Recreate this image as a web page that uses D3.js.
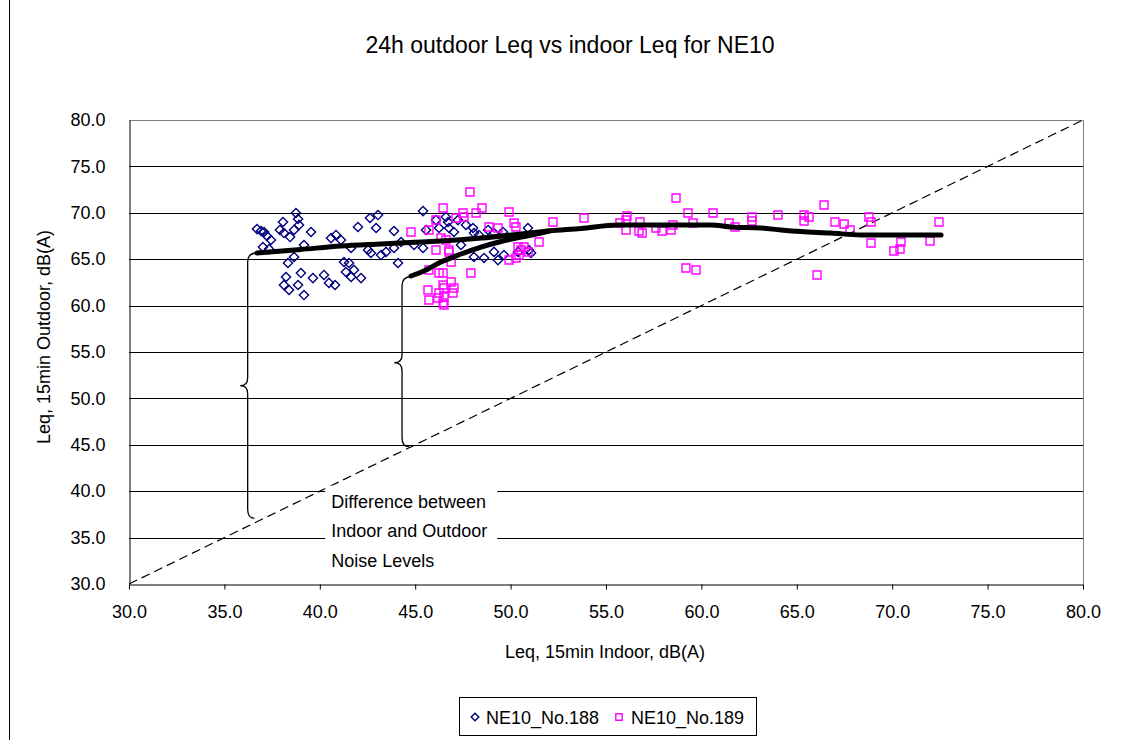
<!DOCTYPE html>
<html>
<head>
<meta charset="utf-8">
<script src="https://cdn.jsdelivr.net/npm/d3@7"></script>
<style>
  html, body { margin: 0; padding: 0; background: #fff; }
  svg { display: block; font-family: "Liberation Sans", Arial, sans-serif; }
</style>
</head>
<body>
<svg id="chart" width="1123" height="740"></svg>
<script>
// ---------------- DATA ----------------
const chartTitle = "24h outdoor Leq vs indoor Leq for NE10";
const xTitle = "Leq, 15min Indoor, dB(A)";
const yTitle = "Leq, 15min Outdoor, dB(A)";
const seriesNames = ["NE10_No.188", "NE10_No.189"];
const xTicks = [30, 35, 40, 45, 50, 55, 60, 65, 70, 75, 80];
const yTicks = [30, 35, 40, 45, 50, 55, 60, 65, 70, 75, 80];

// NE10_No.188 : [indoor, outdoor]
const ne188 = [
  [36.71,68.25],[36.92,68.04],[37.08,67.93],[37.23,67.50],[37.44,67.07],[37.02,66.31],[37.34,66.10],
  [38.07,69.01],[37.91,68.15],[38.12,67.82],[38.44,67.39],[38.75,69.98],[38.86,69.33],[38.91,68.69],
  [38.65,68.15],[39.54,67.93],[39.17,66.53],[38.65,65.24],[38.33,64.59],[39.01,63.51],[38.23,63.08],
  [38.12,62.22],[38.39,61.68],[38.86,62.22],[39.17,61.14],[39.64,62.97],[40.22,63.30],[40.48,62.44],
  [40.59,67.28],[40.85,67.61],[42.00,68.47],[42.63,69.44],[43.05,69.76],[42.95,68.36],[43.89,68.04],
  [41.11,67.07],[41.64,66.21],[42.53,65.99],[42.68,65.67],[43.21,65.45],[43.47,65.78],[43.89,66.21],
  [44.26,66.85],[44.94,66.53],[45.41,66.21],[44.10,64.59],[41.27,64.70],[41.53,64.59],[41.37,63.62],
  [41.79,63.84],[42.16,62.97],[41.64,63.08],[40.80,62.22],[45.41,70.19],[45.57,68.15],[46.09,69.22],
  [46.25,68.36],[46.61,69.55],[46.72,69.01],[46.77,68.36],[47.03,67.93],[47.24,69.22],[47.66,68.69],
  [48.03,68.36],[48.08,67.82],[48.34,67.61],[48.82,68.15],[49.13,67.82],[49.60,67.93],[50.91,68.36],
  [48.08,65.24],[48.61,65.13],[49.13,65.78],[49.34,64.91],[49.65,65.45],[50.39,65.78],[50.96,65.99],
  [51.07,65.67],[47.40,66.53]
];

// NE10_No.189 : [indoor, outdoor]
const ne189 = [
  [47.87,72.24],[46.46,70.52],[46.09,69.22],[47.50,69.98],[47.56,69.55],[48.19,69.98],[48.50,70.52],
  [49.92,70.09],[50.18,68.90],[50.28,68.47],[52.22,69.01],[44.78,67.93],[45.72,68.15],[46.35,67.28],
  [46.09,65.99],[46.77,65.99],[46.88,64.70],[45.72,63.84],[46.25,63.51],[47.92,63.51],[48.87,68.47],
  [49.34,68.36],[51.49,66.85],[50.39,66.31],[50.55,65.99],[50.70,66.31],[50.44,65.45],[49.92,64.91],
  [50.91,65.78],[46.88,62.54],[45.67,61.68],[46.46,62.22],[46.51,61.90],[47.03,61.90],[46.98,61.36],
  [46.25,61.36],[46.19,60.82],[46.46,60.28],[45.72,60.60],[46.51,60.93],[47.14,69.44],[46.61,67.07],
  [46.77,65.78],[46.46,63.51],[46.51,60.06],[50.28,65.13],[53.85,69.44],[56.10,69.66],[56.05,69.22],
  [55.73,68.90],[56.05,68.15],[56.78,69.01],[56.73,68.04],[56.89,67.82],[57.62,68.36],[57.94,68.04],
  [58.41,68.15],[58.51,68.69],[58.67,71.59],[59.30,69.98],[59.56,68.90],[60.61,69.98],[61.45,68.90],
  [61.76,68.47],[62.65,69.55],[62.65,69.12],[64.01,69.76],[65.38,69.76],[65.64,69.55],[65.38,69.12],
  [66.43,70.84],[67.00,69.01],[67.48,68.79],[67.79,68.15],[68.78,69.55],[68.89,69.01],[68.89,66.75],
  [70.46,66.85],[70.41,66.10],[70.09,65.88],[71.98,66.96],[72.45,69.01],[59.19,64.05],[59.72,63.84],
  [66.06,63.30]
];

// Trend lines
const trendA = [
  [36.71,65.67],[39.01,66.05],[41.11,66.42],[43.21,66.64],[45.30,66.85],[46.35,66.96],[48.45,67.28],
  [50.55,67.72],[52.01,68.04],[53.69,68.31],[55.63,68.69],[60.50,68.69],[61.55,68.47],[63.12,68.36],
  [64.17,68.15],[65.22,67.98],[66.79,67.82],[68.36,67.61],[72.56,67.61]
];
const trendB = [
  [44.78,63.19],[45.57,63.84],[46.35,64.70],[47.40,65.56],[48.45,66.31],[49.50,66.91],[50.55,67.39],
  [51.59,67.82],[52.01,68.04]
];
// Equality line (indoor = outdoor)
const equalityLine = [[30,30],[80,80]];

const annotationLines = ["Difference between", "Indoor and Outdoor", "Noise Levels"];

// ---------------- LAYOUT ----------------
const svg = d3.select("#chart");
const W = 1123, H = 740;
const plot = { left: 129, right: 1083, top: 120, bottom: 584 };

const x = d3.scaleLinear().domain([30, 80]).range([plot.left, plot.right]);
const y = d3.scaleLinear().domain([30, 80]).range([plot.bottom, plot.top]);

svg.append("rect").attr("width", W).attr("height", H).attr("fill", "#fff");
// chart area frame (left edge visible)
svg.append("line").attr("x1", 9.5).attr("x2", 9.5).attr("y1", 0).attr("y2", H)
  .attr("stroke", "#000").attr("stroke-width", 1);

// gridlines
svg.append("g").selectAll("line").data(yTicks.filter(d => d > 30 && d < 80)).join("line")
  .attr("x1", plot.left).attr("x2", plot.right)
  .attr("y1", d => Math.round(y(d)) + 0.5).attr("y2", d => Math.round(y(d)) + 0.5)
  .attr("stroke", "#000").attr("stroke-width", 1);

// plot border top/right
svg.append("path")
  .attr("d", `M${plot.left},${plot.top + 0.5}H${plot.right + 0.5}V${plot.bottom}`)
  .attr("fill", "none").attr("stroke", "#808080").attr("stroke-width", 1);

// axes
const xAxis = d3.axisBottom(x).tickValues(xTicks).tickFormat(d3.format(".1f")).tickSizeInner(5).tickSizeOuter(0).tickPadding(16);
const gx = svg.append("g").attr("transform", `translate(0,${plot.bottom + 0.5})`).call(xAxis);
gx.select(".domain").attr("stroke", "#000");
gx.selectAll(".tick line").attr("stroke", "#000");
gx.selectAll("text").attr("font-size", 18).attr("fill", "#000")
  .attr("font-family", "'Liberation Sans', Arial, sans-serif");

const yAxis = d3.axisLeft(y).tickValues(yTicks).tickFormat(d3.format(".1f")).tickSize(0).tickPadding(24);
const gy = svg.append("g").attr("transform", `translate(${plot.left + 0.5},0)`).call(yAxis);
gy.select(".domain").attr("stroke", "#000");
gy.selectAll("text").attr("font-size", 18).attr("fill", "#000")
  .attr("font-family", "'Liberation Sans', Arial, sans-serif");

// equality dashed line
svg.append("path").datum(equalityLine)
  .attr("d", d3.line().x(d => x(d[0])).y(d => y(d[1])))
  .attr("fill", "none").attr("stroke", "#000").attr("stroke-width", 1.2)
  .attr("stroke-dasharray", "9,5");

// annotation box (covers gridlines)
const annX = x(40.6), annTop = y(40.6);
svg.append("rect").attr("x", annX - 6).attr("y", annTop).attr("width", 172).attr("height", 88).attr("fill", "#fff");
svg.append("g").selectAll("text").data(annotationLines).join("text")
  .attr("x", annX).attr("y", (d, i) => annTop + 22 + i * 29.5)
  .attr("font-size", 18).attr("fill", "#000").text(d => d);

// braces
function bracePath(xv, tipX, yTopEnd, xTopEnd, yBotEnd, xBotEnd, tipY) {
  const r = 9, rt = 8;
  return `M${xTopEnd},${yTopEnd}Q${xv},${yTopEnd} ${xv},${yTopEnd + r}` +
    `L${xv},${tipY - rt}Q${xv},${tipY} ${tipX},${tipY}` +
    `Q${xv},${tipY} ${xv},${tipY + rt}` +
    `L${xv},${yBotEnd - r}Q${xv},${yBotEnd} ${xBotEnd},${yBotEnd}`;
}
const braces = [
  { xv: 36.22, tip: 35.83, tipY: 51.37, top: [36.71, 65.67], bot: [36.57, 37.08] },
  { xv: 44.31, tip: 43.90, tipY: 53.85, top: [44.78, 63.11], bot: [44.68, 44.80] }
];
svg.append("g").selectAll("path").data(braces).join("path")
  .attr("d", b => bracePath(x(b.xv), x(b.tip), y(b.top[1]), x(b.top[0]), y(b.bot[1]), x(b.bot[0]), y(b.tipY)))
  .attr("fill", "none").attr("stroke", "#000").attr("stroke-width", 1.3);

// markers
const diamond = s => `M0,${-s}L${s},0L0,${s}L${-s},0Z`;
const square = s => `M${-s},${-s}H${s}V${s}H${-s}Z`;

svg.append("g").selectAll("path").data(ne188).join("path")
  .attr("transform", d => `translate(${x(d[0])},${y(d[1])})`)
  .attr("d", diamond(4.6)).attr("fill", "none").attr("stroke", "#000080").attr("stroke-width", 1.4);

svg.append("g").selectAll("path").data(ne189).join("path")
  .attr("transform", d => `translate(${x(d[0])},${y(d[1])})`)
  .attr("d", square(4)).attr("fill", "none").attr("stroke", "#FF00FF").attr("stroke-width", 1.4);

// trend lines
const trendLine = d3.line().x(d => x(d[0])).y(d => y(d[1])).curve(d3.curveMonotoneX);
svg.append("g").selectAll("path").data([trendA, trendB]).join("path")
  .attr("d", trendLine).attr("fill", "none").attr("stroke", "#000")
  .attr("stroke-width", 5).attr("stroke-linecap", "round").attr("stroke-linejoin", "round");

// titles
svg.append("text").attr("x", 570).attr("y", 53).attr("text-anchor", "middle")
  .attr("font-size", 23).attr("fill", "#000").text(chartTitle);
svg.append("text").attr("x", 605).attr("y", 658).attr("text-anchor", "middle")
  .attr("font-size", 18).attr("fill", "#000").text(xTitle);
svg.append("text").attr("transform", `translate(50,${(plot.top + plot.bottom) / 2 - 15}) rotate(-90)`)
  .attr("text-anchor", "middle").attr("font-size", 18).attr("fill", "#000").text(yTitle);

// legend
const lg = svg.append("g");
lg.append("rect").attr("x", 459.5).attr("y", 697.5).attr("width", 297).attr("height", 38)
  .attr("fill", "#fff").attr("stroke", "#000").attr("stroke-width", 1);
lg.append("path").attr("transform", "translate(475,717)").attr("d", diamond(3.8))
  .attr("fill", "none").attr("stroke", "#000080").attr("stroke-width", 1.4);
lg.append("text").attr("x", 486).attr("y", 723.5).attr("font-size", 18).attr("fill", "#000").text(seriesNames[0]);
lg.append("path").attr("transform", "translate(619,717)").attr("d", square(3.2))
  .attr("fill", "none").attr("stroke", "#FF00FF").attr("stroke-width", 1.4);
lg.append("text").attr("x", 631).attr("y", 723.5).attr("font-size", 18).attr("fill", "#000").text(seriesNames[1]);
</script>
</body>
</html>
